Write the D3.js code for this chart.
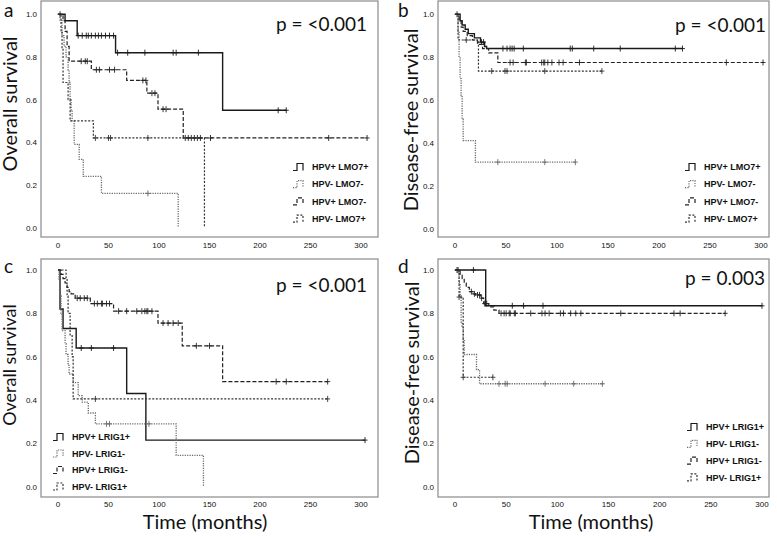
<!DOCTYPE html>
<html>
<head>
<meta charset="utf-8">
<script src="https://cdn.jsdelivr.net/npm/d3@7"></script>
<style>
  body { margin: 0; background: #fff; }
  svg text { fill: #111; }
</style>
</head>
<body>
<script>
const timeTicks = [0, 50, 100, 150, 200, 250, 300];
const survTicks = [0.0, 0.2, 0.4, 0.6, 0.8, 1.0];

const lmo7Groups = ["HPV+ LMO7+", "HPV- LMO7-", "HPV+ LMO7-", "HPV- LMO7+"];
const lrig1Groups = ["HPV+ LRIG1+", "HPV- LRIG1-", "HPV+ LRIG1-", "HPV- LRIG1+"];

const pValues = ["p = <0.001", "p = <0.001", "p = <0.001", "p = 0.003"];

// each step: [months, survival from that time on]
const osLmo7Steps = [
  [[0,1],[7,0.97],[19,0.9],[57,0.82],[163,0.55],[226,0.55]],
  [[0,1],[2,0.97],[4,0.9],[6,0.85],[8,0.8],[10,0.74],[11,0.68],[12,0.6],[13,0.55],[14,0.5],[16,0.39],[21,0.32],[25,0.24],[43,0.16],[119,0]],
  [[0,1],[5,0.97],[7,0.92],[9,0.85],[11,0.78],[33,0.74],[68,0.69],[88,0.63],[99,0.555],[124,0.42],[306,0.42]],
  [[0,1],[3,0.92],[4,0.84],[5,0.68],[10,0.6],[12,0.5],[35,0.42],[145,0]]
];
const osLmo7Censored = [
  [2,20,24,28,30,33,37,40,43,47,51,55,59,69,86,114,117,139,218,226],
  [89],
  [23,27,29,38,41,51,56,84,87,93,96,104,107,126,129,132,135,138,141,151,268,306],
  [37,50,52,89]
];

const dfsLmo7Steps = [
  [[0,1],[5,0.97],[7,0.95],[10,0.93],[13,0.91],[19,0.89],[25,0.87],[29,0.85],[31,0.84],[223,0.84]],
  [[0,1],[3,0.92],[4,0.8],[5,0.7],[6,0.62],[7,0.51],[8,0.41],[20,0.31],[118,0.31]],
  [[0,1],[4,0.97],[6,0.94],[8,0.92],[12,0.9],[17,0.88],[22,0.86],[27,0.84],[33,0.82],[42,0.775],[302,0.775]],
  [[0,1],[3,0.88],[23,0.735],[144,0.735]]
];
const dfsLmo7Censored = [
  [2,26,28,47,51,54,56,58,67,113,115,136,162,216,223],
  [42,88,118],
  [54,57,69,70,85,87,88,91,95,102,106,122,266,302],
  [11,36,49,51,88,144]
];

const osLrig1Steps = [
  [[0,1],[2,0.82],[5,0.73],[18,0.64],[68,0.43],[87,0.215],[304,0.215]],
  [[0,1],[1,0.95],[2,0.88],[3,0.8],[4,0.72],[7,0.66],[8,0.61],[10,0.56],[11,0.52],[15,0.48],[20,0.42],[24,0.39],[30,0.34],[37,0.29],[117,0.145],[144,0]],
  [[0,1],[3,0.98],[5,0.96],[7,0.94],[9,0.92],[11,0.9],[13,0.89],[17,0.87],[32,0.845],[55,0.81],[99,0.755],[123,0.65],[163,0.485],[267,0.485]],
  [[0,1],[8,0.96],[9,0.88],[10,0.8],[12,0.7],[14,0.6],[15,0.405],[267,0.405]]
];
const osLrig1Censored = [
  [23,33,55,304],
  [48,51,90],
  [19,22,26,29,36,39,43,44,48,51,60,68,78,83,86,88,89,93,104,109,114,119,137,150,216,226,267],
  [37,267]
];

const dfsLrig1Steps = [
  [[0,1],[30,0.835],[300,0.835]],
  [[0,1],[4,0.94],[5,0.88],[6,0.76],[7,0.74],[8,0.68],[9,0.61],[21,0.54],[24,0.475],[145,0.475]],
  [[0,1],[5,0.98],[7,0.96],[9,0.94],[11,0.92],[14,0.9],[18,0.89],[20,0.885],[25,0.87],[28,0.845],[33,0.83],[38,0.815],[43,0.8],[264,0.8]],
  [[0,1],[4,0.875],[8,0.505],[37,0.505]]
];
const dfsLrig1Censored = [
  [2,18,56,67,86,300],
  [43,49,51,88,116,144],
  [3,16,19,22,24,26,29,31,45,48,50,53,54,58,59,74,85,88,92,103,106,113,118,123,162,214,220,264],
  [4,8,37]
];

const lineStyles = [
  { dash: null, color: "#1a1a1a", width: 1.4 },
  { dash: "1.2,1.2", color: "#6a6a6a", width: 1.3 },
  { dash: "4,2", color: "#222", width: 1.2 },
  { dash: "2,1.6", color: "#333", width: 1.2 }
];

const panels = [
  { letter: "a", title: "Overall survival", groups: lmo7Groups, steps: osLmo7Steps, censored: osLmo7Censored, p: pValues[0],
    box: [41, 1, 378, 237], xr: [58, 361], yr: [227.5, 14.3], tickY: 248,
    titleX: 17, titleY: 104, titleSize: 20, pX: 367, pY: 31, legX: 293, legY: 167, legStep: 17.2, letterXY: [4, 17] },
  { letter: "b", title: "Disease-free survival", groups: lmo7Groups, steps: dfsLmo7Steps, censored: dfsLmo7Censored, p: pValues[1],
    box: [438, 1, 769, 237], xr: [455, 761], yr: [228.5, 14.3], tickY: 248,
    titleX: 418, titleY: 120, titleSize: 20, pX: 766, pY: 32, legX: 685, legY: 167, legStep: 17.2, letterXY: [398, 17] },
  { letter: "c", title: "Overall survival", groups: lrig1Groups, steps: osLrig1Steps, censored: osLrig1Censored, p: pValues[2],
    box: [41, 259, 378, 497], xr: [58, 361], yr: [486.7, 270], tickY: 507,
    titleX: 16, titleY: 365, titleSize: 18, pX: 367, pY: 292, legX: 53, legY: 437, legStep: 16.5, letterXY: [4, 273] },
  { letter: "d", title: "Disease-free survival", groups: lrig1Groups, steps: dfsLrig1Steps, censored: dfsLrig1Censored, p: pValues[3],
    box: [438, 259, 769, 497], xr: [455, 762], yr: [486.7, 270], tickY: 507,
    titleX: 419, titleY: 373, titleSize: 20, pX: 765, pY: 285, legX: 687, legY: 427, legStep: 16.8, letterXY: [398, 273] }
];

const svg = d3.select("body").append("svg")
  .attr("width", 777)
  .attr("height", 536)
  .style("font-family", "Lato, 'Open Sans', sans-serif");

function survAt(steps, t) {
  let s = steps[0][1];
  steps.forEach(d => { if (d[0] <= t) s = d[1]; });
  return s;
}

panels.forEach(p => {
  const x = d3.scaleLinear().domain([0, 300]).range(p.xr);
  const y = d3.scaleLinear().domain([0, 1]).range(p.yr);
  const g = svg.append("g");

  // frame
  g.append("rect")
    .attr("x", p.box[0]).attr("y", p.box[1])
    .attr("width", p.box[2] - p.box[0]).attr("height", p.box[3] - p.box[1])
    .attr("fill", "none").attr("stroke", "#8a8a8a").attr("stroke-width", 1.2);

  // tick labels
  g.selectAll(".xt").data(timeTicks).enter().append("text")
    .attr("x", d => x(d)).attr("y", p.tickY)
    .attr("text-anchor", "middle")
    .style("font-family", "'Liberation Sans', Arial, sans-serif")
    .style("font-size", "8px")
    .text(d => d);
  g.selectAll(".yt").data(survTicks).enter().append("text")
    .attr("x", p.box[0] - 4).attr("y", d => y(d) + 3)
    .attr("text-anchor", "end")
    .style("font-family", "'Liberation Sans', Arial, sans-serif")
    .style("font-size", "8px")
    .text(d => d.toFixed(1));

  // axis title
  g.append("text")
    .attr("transform", `translate(${p.titleX},${p.titleY}) rotate(-90)`)
    .attr("text-anchor", "middle")
    .style("font-size", p.titleSize + "px")
    .text(p.title);

  // panel letter and p value
  g.append("text")
    .attr("x", p.letterXY[0]).attr("y", p.letterXY[1])
    .style("font-size", "19px")
    .text(p.letter);
  g.append("text")
    .attr("x", p.pX).attr("y", p.pY)
    .attr("text-anchor", "end")
    .style("font-size", "19px")
    .text(p.p);

  // curves
  const line = d3.line()
    .x(d => x(d[0]))
    .y(d => y(d[1]))
    .curve(d3.curveStepAfter);

  p.steps.forEach((st, i) => {
    const ls = lineStyles[i];
    g.append("path")
      .attr("d", line(st))
      .attr("fill", "none")
      .attr("stroke", ls.color)
      .attr("stroke-width", ls.width)
      .attr("stroke-dasharray", ls.dash);

    const marks = g.append("g")
      .attr("stroke", ls.color)
      .attr("stroke-width", 0.9);
    p.censored[i].forEach(t => {
      const cx = x(t), cy = y(survAt(st, t));
      marks.append("line").attr("x1", cx).attr("x2", cx).attr("y1", cy - 3).attr("y2", cy + 3);
      marks.append("line").attr("x1", cx - 2.5).attr("x2", cx + 2.5).attr("y1", cy).attr("y2", cy);
    });
  });

  // legend
  p.groups.forEach((name, i) => {
    const ls = lineStyles[i];
    const ly = p.legY + i * p.legStep;
    g.append("path")
      .attr("d", `M${p.legX},${ly + 3.5}H${p.legX + 4}V${ly - 3.5}H${p.legX + 10}V${ly + 3.5}`)
      .attr("fill", "none")
      .attr("stroke", ls.color)
      .attr("stroke-width", 1.2)
      .attr("stroke-dasharray", ls.dash);
    g.append("text")
      .attr("x", p.legX + 19).attr("y", ly + 3.2)
      .style("font-family", "'Liberation Sans', Arial, sans-serif")
      .style("font-size", "9px")
      .style("font-weight", "bold")
      .text(name);
  });
});

// shared x titles
svg.selectAll(".xtitle").data([205, 591]).enter().append("text")
  .attr("x", d => d).attr("y", 529)
  .attr("text-anchor", "middle")
  .style("font-size", "20px")
  .text("Time (months)");
</script>
</body>
</html>
